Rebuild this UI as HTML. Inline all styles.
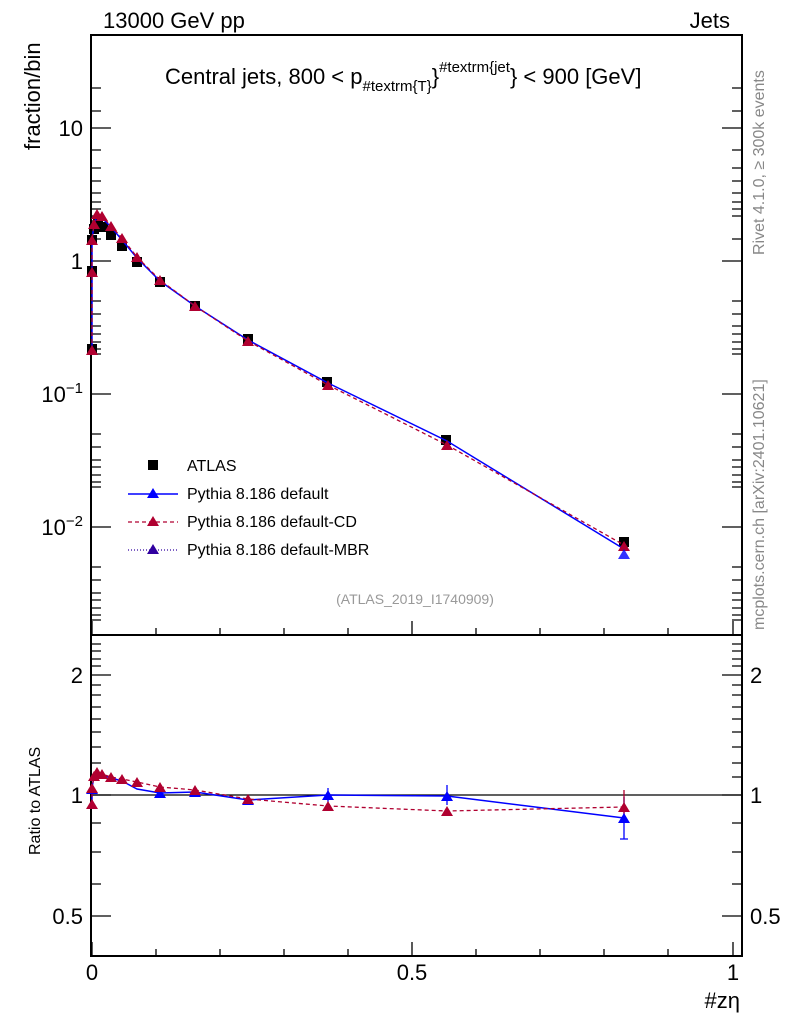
<!DOCTYPE html>
<html><head><meta charset="utf-8"><style>body{margin:0;background:#fff}svg{display:block}text{font-family:"Liberation Sans",sans-serif}</style></head><body>
<svg width="786" height="1024" viewBox="0 0 786 1024">
<g fill="none" stroke="#000" stroke-width="2">
<rect x="91" y="35" width="651" height="600"/>
<rect x="91" y="635" width="651" height="321"/>
</g>
<g stroke="#000" stroke-width="1.3">
<!-- main y ticks -->
<path d="M91 128h20M742 128h-20M91 261h20M742 261h-20M91 394h20M742 394h-20M91 527h20M742 527h-20"/>
<path d="M91 88h10M91 111h10M91 150h10M91 168h10M91 181h10M91 193h10M91 202h10M91 209h10M91 216h10M91 221h10M91 239h10M91 221h10M91 301h10M91 314h10M91 326h10M91 334h10M91 342h10M91 349h10M91 354h10M91 434h10M91 447h10M91 460h10M91 467h10M91 475h10M91 482h10M91 487h10M91 567h10M91 580h10M91 593h10M91 600h10M91 608h10M91 615h10M91 620h10"/>
<path d="M742 88h-10M742 111h-10M742 150h-10M742 168h-10M742 181h-10M742 193h-10M742 202h-10M742 209h-10M742 216h-10M742 239h-10M742 301h-10M742 314h-10M742 326h-10M742 334h-10M742 342h-10M742 349h-10M742 354h-10M742 434h-10M742 447h-10M742 460h-10M742 467h-10M742 475h-10M742 482h-10M742 487h-10M742 567h-10M742 580h-10M742 593h-10M742 600h-10M742 608h-10M742 615h-10M742 620h-10"/>
<!-- x ticks -->
<path d="M92 635v-14M412 635v-14M733 635v-14M156 635v-7M220 635v-7M284 635v-7M348 635v-7M476 635v-7M540 635v-7M604 635v-7M668 635v-7"/>
<path d="M92 956v-14M412 956v-14M733 956v-14M156 956v-7M220 956v-7M284 956v-7M348 956v-7M476 956v-7M540 956v-7M604 956v-7M668 956v-7"/>
<!-- ratio y ticks -->
<path d="M91 675h20M742 675h-20M91 795h20M742 795h-20M91 916h20M742 916h-20"/>
<path d="M91 644h10M91 651h10M91 659h10M91 666h10M91 685h10M91 695h10M91 707h10M91 719h10M91 732h10M91 747h10M91 763h10M91 777h10M91 823h10M91 852h10M91 884h10"/>
<path d="M742 644h-10M742 651h-10M742 659h-10M742 666h-10M742 685h-10M742 695h-10M742 707h-10M742 719h-10M742 732h-10M742 747h-10M742 763h-10M742 777h-10M742 823h-10M742 852h-10M742 884h-10"/>
<path d="M91 795H742"/>
</g>
<g font-size="22" fill="#000">
<text x="83" y="136" text-anchor="end">10</text>
<text x="83" y="269" text-anchor="end">1</text>
<text x="83" y="402" text-anchor="end">10<tspan font-size="15" dy="-9">−1</tspan></text>
<text x="83" y="535" text-anchor="end">10<tspan font-size="15" dy="-9">−2</tspan></text>
<text x="83" y="683" text-anchor="end">2</text>
<text x="83" y="803" text-anchor="end">1</text>
<text x="83" y="924" text-anchor="end">0.5</text>
<text x="750" y="683">2</text>
<text x="750" y="803">1</text>
<text x="750" y="924">0.5</text>
<text x="92" y="980" text-anchor="middle">0</text>
<text x="412" y="980" text-anchor="middle">0.5</text>
<text x="733" y="980" text-anchor="middle">1</text>
<text x="740" y="1008" text-anchor="end">#zη</text>
<text x="103" y="28">13000 GeV pp</text>
<text x="730" y="28" text-anchor="end">Jets</text>
<text x="165" y="84">Central jets, 800 &lt; p<tspan font-size="15" dy="7">#textrm{T}</tspan><tspan dy="-7">}</tspan><tspan font-size="15" dy="-12">#textrm{jet</tspan><tspan dy="12">} &lt; 900 [GeV]</tspan></text>
<text transform="translate(40,150) rotate(-90)" text-anchor="start">fraction/bin</text>
</g>
<text transform="translate(40,855) rotate(-90)" font-size="16" text-anchor="start">Ratio to ATLAS</text>
<text x="415" y="604" font-size="14" fill="#999" text-anchor="middle">(ATLAS_2019_I1740909)</text>
<text transform="translate(764,255) rotate(-90)" font-size="16" fill="#888">Rivet 4.1.0, ≥ 300k events</text>
<text transform="translate(764,630) rotate(-90)" font-size="16" fill="#888">mcplots.cern.ch [arXiv:2401.10621]</text>
<!-- main series -->
<g fill="#000">
<rect x="87" y="344" width="10" height="10"/><rect x="87" y="266" width="10" height="10"/><rect x="87" y="235" width="10" height="10"/><rect x="89" y="224" width="10" height="10"/><rect x="93" y="218" width="10" height="10"/><rect x="98" y="222" width="10" height="10"/><rect x="106" y="230" width="10" height="10"/><rect x="117" y="241" width="10" height="10"/><rect x="132" y="257" width="10" height="10"/><rect x="155" y="277" width="10" height="10"/><rect x="190" y="301" width="10" height="10"/><rect x="243" y="334" width="10" height="10"/><rect x="322" y="377" width="10" height="10"/><rect x="441" y="435" width="10" height="10"/><rect x="619" y="537" width="10" height="10"/>
</g>
<polyline fill="none" stroke="#00f" stroke-width="1.5" points="92,350 92,272 92,240 94,224 97,216 102,218 111,227 122,240 137,258 160,281 195,306 248,340 328,383 447,441 624,549"/>
<polyline fill="none" stroke="#b00030" stroke-width="1.3" stroke-dasharray="4,3" points="92,350 92,272 92,240 94,224 97,214 102,216 111,226 122,238 137,257 160,280 195,306 248,341 328,385 447,445 624,545"/>
<g fill="#b00030">
<path d="M92,345l-6,10h12z M92,267l-6,10h12z M92,235l-6,10h12z M94,219l-6,10h12z M97,209l-6,10h12z M102,211l-6,10h12z M111,221l-6,10h12z M122,233l-6,10h12z M137,252l-6,10h12z M160,275l-6,10h12z M195,301l-6,10h12z M248,336l-6,10h12z M328,380l-6,10h12z M447,440l-6,10h12z M624,541l-6,10h12z"/>
</g>
<path d="M624,549l-6,10h12z" fill="#00f" opacity="0.8"/>
<!-- legend -->
<rect x="148" y="460" width="10" height="10"/>
<text x="187" y="471" font-size="16">ATLAS</text>
<path d="M128 494h50" stroke="#00f" stroke-width="1.5"/><path d="M153,488l-6,10h12z" fill="#00f"/>
<text x="187" y="499" font-size="16">Pythia 8.186 default</text>
<path d="M128 522h50" stroke="#b00030" stroke-width="1.3" stroke-dasharray="4,3"/><path d="M153,516l-6,10h12z" fill="#b00030"/>
<text x="187" y="527" font-size="16">Pythia 8.186 default-CD</text>
<path d="M128 550h50" stroke="#3000a0" stroke-width="1.3" stroke-dasharray="1,2"/><path d="M153,544l-6,10h12z" fill="#3000a0"/>
<text x="187" y="555" font-size="16">Pythia 8.186 default-MBR</text>
<!-- ratio -->
<polyline fill="none" stroke="#00f" stroke-width="1.5" points="92,804 92,788 94,776 97,773 102,775 111,778 122,781 137,789 160,793 195,792 248,800 328,795 447,796 624,818"/>
<polyline fill="none" stroke="#b00030" stroke-width="1.3" stroke-dasharray="4,3" points="92,804 92,788 94,776 97,772 102,774 111,777 122,779 137,782 160,787 195,790 248,799 328,806 447,811 624,807"/>
<g stroke="#00f" stroke-width="1.3"><path d="M328 788v14M447 785v20M624 797v42M620 839h8"/></g>
<g stroke="#b00030" stroke-width="1.3"><path d="M624 790v26"/></g>
<path d="M328,790l-6,10h12z M447,791l-6,10h12z M624,813l-6,10h12z M248,795l-6,10h12z M160,788l-6,10h12z M195,787l-6,10h12z M92,784l-6,10h12z" fill="#00f"/>
<path d="M92,799l-6,10h12z M92,783l-6,10h12z M94,771l-6,10h12z M97,767l-6,10h12z M102,769l-6,10h12z M111,772l-6,10h12z M122,774l-6,10h12z M137,777l-6,10h12z M160,782l-6,10h12z M195,785l-6,10h12z M248,794l-6,10h12z M328,801l-6,10h12z M447,806l-6,10h12z M624,802l-6,10h12z" fill="#b00030"/>
</svg>
</body></html>
